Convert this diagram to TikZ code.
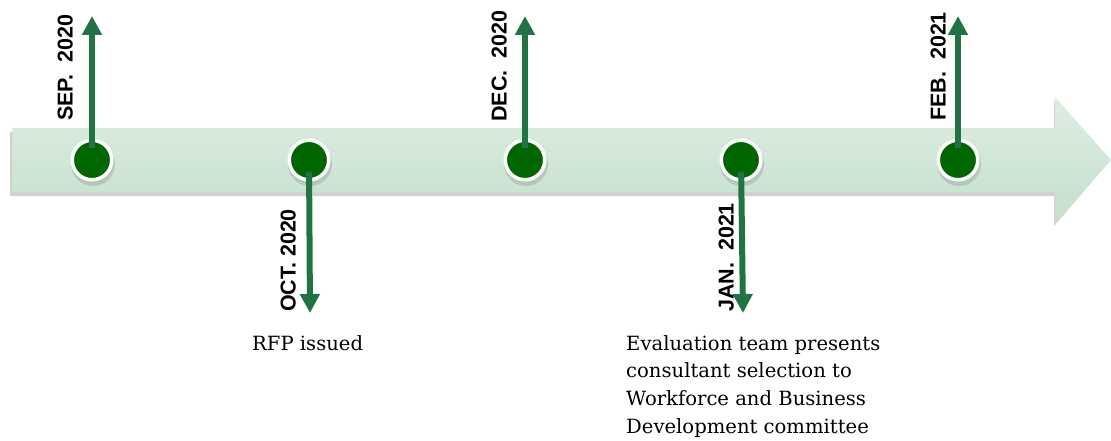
\documentclass[tikz,border=0pt]{standalone}
\usepackage{fontspec}
\setmainfont{DejaVu Serif}
\newfontfamily\lblfont{Liberation Sans}
\usetikzlibrary{arrows.meta,calc}
\definecolor{tlgreen}{RGB}{33,115,70}
\definecolor{dotgreen}{RGB}{0,102,0}
\definecolor{bandtop}{RGB}{222,237,226}
\definecolor{bandbot}{RGB}{196,224,203}
\tikzset{
  dot/.style={circle,fill=dotgreen,draw=white,line width=3.5pt,minimum size=39.5pt,inner sep=0pt,outer sep=0pt},
  dotshadow/.style={circle,fill=black,opacity=0.12,minimum size=44pt,inner sep=0pt},
  tl/.style={draw=tlgreen,line width=6pt,-{Triangle[width=19pt,length=19pt]},shorten <=-8pt},
  datelbl/.style={font=\lblfont\bfseries\fontsize{21.5}{24}\selectfont,rotate=90,inner sep=0pt},
  desc/.style={font=\fontsize{19.6}{27.7}\selectfont,align=left,inner sep=0pt,anchor=north west},
}
\begin{document}
\begin{tikzpicture}[x=1pt,y=-1pt]
\useasboundingbox (0,0) rectangle (1111,441);
% shadow of band
\fill[black,opacity=0.18] (10,132) -- (1054,132) -- (1054,101) -- (1108,163) -- (1054,226) -- (1054,196) -- (10,196) -- cycle;
% band
\shade[top color=bandtop,bottom color=bandbot] (12,128) -- (1055,128) -- (1055,97) -- (1111,160) -- (1055,223) -- (1055,192) -- (12,192) -- cycle;
% dot shadows
\foreach \x in {92,309,525,741,958} \node[dotshadow] at (\x+1,164) {};
% dots
\node[dot] (c1) at (92,160) {};
\node[dot] (c2) at (309,160) {};
\node[dot] (c3) at (525,160) {};
\node[dot] (c4) at (741,160) {};
\node[dot] (c5) at (958,160) {};
% tips
\coordinate (t1) at (92,16);
\coordinate (t2) at (310,313);
\coordinate (t3) at (525,16);
\coordinate (t4) at (743,313);
\coordinate (t5) at (958,16);
\draw[tl] (c1) -- (t1);
\draw[tl] (c2) -- (t2);
\draw[tl] (c3) -- (t3);
\draw[tl] (c4) -- (t4);
\draw[tl] (c5) -- (t5);
% date labels
\node[datelbl,anchor=south west] (l1) at (73,121) {SEP.\ \ 2020};
\node[datelbl,anchor=south west] (l2) at (296,312) {OCT. 2020};
\node[datelbl,anchor=south west] (l3) at (507,122) {DEC.\ \ 2020};
\node[datelbl,anchor=south west] (l4) at (734,312) {JAN.\ \ 2021};
\node[datelbl,anchor=south west] (l5) at (946,121) {FEB.\ \ 2021};
% descriptions
\node[desc] (d2) at (252,335) {RFP issued};
\node[desc] (d4) at (626,335) {Evaluation team presents\\consultant selection to\\Workforce and Business\\Development committee};
\end{tikzpicture}
\end{document}
